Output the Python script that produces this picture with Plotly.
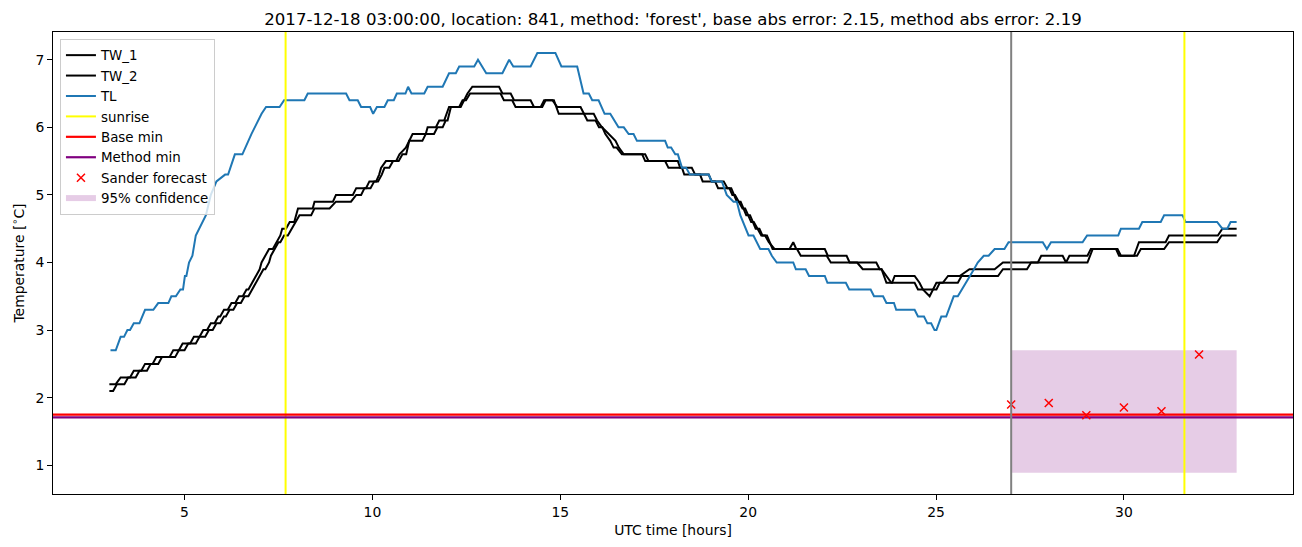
import plotly.graph_objects as go

# ---------------- data ----------------
TL_H = [3.03, 3.17, 3.30, 3.39, 3.48, 3.55, 3.65, 3.80, 3.95, 4.17, 4.30, 4.57, 4.65, 4.77,
        4.89, 4.96, 5.01, 5.05, 5.12, 5.21, 5.30, 5.49, 5.57, 5.70, 5.85, 6.08, 6.16, 6.34,
        6.54, 6.78, 7.05, 7.17, 7.53, 7.65, 8.19, 8.28, 9.30, 9.39, 9.61, 9.70, 9.94, 10.02,
        10.12, 10.32, 10.41, 10.57, 10.65, 10.88, 10.95, 11.04, 11.38, 11.47, 11.87, 12.04,
        12.22, 12.31, 12.71, 12.81, 13.03, 13.46, 13.64, 13.75, 14.21, 14.39, 14.87, 15.03,
        15.45, 15.62, 15.76, 15.85, 16.02, 16.18, 16.33, 16.55, 16.69, 16.82, 16.95, 17.04,
        17.79, 17.86, 17.95, 18.06, 18.13, 18.24, 18.35, 18.45, 18.95, 19.03, 19.30, 19.43,
        19.61, 19.70, 19.79, 20.01, 20.14, 20.32, 20.54, 20.63, 20.76, 21.20, 21.27, 21.53,
        21.62, 22.04, 22.11, 22.60, 22.69, 23.26, 23.35, 23.59, 23.68, 23.88, 23.94, 24.43,
        24.52, 24.68, 24.77, 24.87, 24.96, 25.01, 25.14, 25.27, 25.47, 25.58, 25.69, 25.80,
        25.92, 26.01, 26.11, 26.27, 26.40, 26.56, 26.82, 26.93, 27.84, 27.95, 28.06, 28.90,
        29.02, 29.85, 29.92, 30.40, 30.49, 30.98, 31.07, 31.56, 31.64, 32.48, 32.62, 32.75,
        32.84, 33.00]
TL_T = [2.7, 2.7, 2.9, 2.9, 3.0, 3.0, 3.1, 3.1, 3.3, 3.3, 3.4, 3.4, 3.5, 3.5,
        3.6, 3.6, 3.8, 3.8, 4.0, 4.1, 4.4, 4.6, 4.7, 5.0, 5.2, 5.3, 5.3, 5.6,
        5.6, 5.9, 6.2, 6.3, 6.3, 6.4, 6.4, 6.5, 6.5, 6.4, 6.4, 6.3, 6.3, 6.2,
        6.3, 6.3, 6.4, 6.4, 6.5, 6.5, 6.6, 6.5, 6.5, 6.6, 6.6, 6.8,
        6.8, 6.9, 6.9, 7.0, 6.8, 6.8, 7.0, 6.9, 6.9, 7.1, 7.1, 6.9,
        6.9, 6.5, 6.5, 6.4, 6.4, 6.2, 6.2, 6.0, 6.0, 5.9, 5.9, 5.8,
        5.8, 5.7, 5.7, 5.6, 5.6, 5.4, 5.4, 5.3, 5.3, 5.2, 5.2, 5.0,
        4.9, 4.9, 4.7, 4.4, 4.4, 4.2, 4.2, 4.1, 4.0, 4.0, 3.9, 3.9,
        3.8, 3.8, 3.7, 3.7, 3.6, 3.6, 3.5, 3.5, 3.4, 3.4, 3.3, 3.3,
        3.2, 3.2, 3.1, 3.1, 3.0, 3.0, 3.2, 3.2, 3.5, 3.5, 3.6, 3.7,
        3.8, 3.9, 4.0, 4.1, 4.1, 4.2, 4.2, 4.3, 4.3, 4.2, 4.3, 4.3,
        4.4, 4.4, 4.5, 4.5, 4.6, 4.6, 4.7, 4.7, 4.6, 4.6, 4.5, 4.5,
        4.6, 4.6]

TW1_H = [3.00, 3.17, 3.30, 3.55, 3.65, 3.85, 3.95, 4.15, 4.25, 4.60, 4.70, 4.85, 4.95, 5.15,
         5.25, 5.40, 5.50, 5.60, 5.70, 5.80, 5.90, 5.95, 6.05, 6.15, 6.25, 6.35, 6.45, 6.55,
         6.65, 6.70, 6.80, 6.90, 7.00, 7.05, 7.15, 7.25, 7.35, 7.45, 7.55, 7.60, 7.70, 7.80,
         7.92, 8.02, 8.41, 8.46, 8.95, 9.03, 9.48, 9.57, 9.83, 9.92, 10.10, 10.18, 10.23,
         10.36, 10.63, 10.72, 10.89, 11.07, 11.42, 11.47, 11.69, 11.78, 11.91, 12.04, 12.35,
         12.44, 12.53, 12.66, 13.37, 13.46, 13.68, 13.77, 14.21, 14.30, 14.48, 14.57, 14.79,
         14.92, 15.54, 15.63, 15.89, 15.98, 16.11, 16.29, 16.47, 16.56, 16.69, 17.18, 17.26,
         18.13, 18.19, 18.50, 18.59, 18.95, 19.03, 19.35, 19.45, 19.55, 19.62, 19.70, 19.80,
         19.88, 19.95, 20.05, 20.13, 20.20, 20.30, 20.38, 20.50, 20.58, 20.65, 21.10, 21.20,
         21.28, 22.04, 22.12, 22.62, 22.70, 23.41, 23.50, 23.55, 23.68, 23.83, 23.90, 24.43,
         24.56, 24.65, 24.83, 25.01, 25.18, 25.32, 25.63, 25.89, 26.56, 26.78, 27.71, 27.80,
         28.37, 28.46, 28.55, 29.03, 29.12, 29.83, 29.92, 30.27, 30.40, 31.11, 31.20, 32.50,
         32.62, 33.00]
TW1_T = [2.2, 2.2, 2.3, 2.3, 2.4, 2.4, 2.5, 2.5, 2.6, 2.6, 2.7, 2.7, 2.8, 2.8,
         2.9, 2.9, 3.0, 3.0, 3.1, 3.1, 3.2, 3.2, 3.3, 3.3, 3.4, 3.4, 3.5, 3.5,
         3.6, 3.6, 3.7, 3.8, 3.9, 4.0, 4.1, 4.2, 4.2, 4.3, 4.4, 4.5, 4.5, 4.6,
         4.6, 4.8, 4.8, 4.9, 4.9, 5.0, 5.0, 5.1, 5.1, 5.2, 5.2, 5.3, 5.4,
         5.5, 5.5, 5.6, 5.7, 5.9, 5.9, 6.0, 6.0, 6.1, 6.1, 6.3, 6.3,
         6.4, 6.5, 6.6, 6.6, 6.5, 6.5, 6.4, 6.4, 6.3, 6.3, 6.4, 6.4,
         6.3, 6.3, 6.2, 6.2, 6.1, 6.0, 5.9, 5.8, 5.7, 5.6, 5.6, 5.5,
         5.5, 5.4, 5.4, 5.3, 5.3, 5.2, 5.2, 5.1, 5.1, 5.0, 4.9, 4.9,
         4.8, 4.7, 4.7, 4.6, 4.5, 4.5, 4.4, 4.4, 4.3, 4.2, 4.2, 4.3,
         4.2, 4.2, 4.1, 4.1, 4.0, 4.0, 3.9, 3.9, 3.7, 3.7, 3.8, 3.8,
         3.7, 3.6, 3.5, 3.7, 3.7, 3.8, 3.8, 3.9, 3.9, 4.0, 4.0, 4.1,
         4.1, 4.0, 4.1, 4.1, 4.2, 4.2, 4.1, 4.1, 4.3, 4.3, 4.4, 4.4,
         4.5, 4.5]

TW2_H = [3.00, 3.10, 3.20, 3.40, 3.50, 3.70, 3.80, 4.00, 4.10, 4.30, 4.40, 4.75, 4.85, 5.00,
         5.10, 5.30, 5.40, 5.55, 5.65, 5.75, 5.85, 5.95, 6.05, 6.10, 6.20, 6.30, 6.40, 6.50,
         6.60, 6.70, 6.80, 6.90, 7.00, 7.10, 7.15, 7.25, 7.30, 7.40, 7.50, 7.55, 7.65, 7.75,
         7.85, 7.95, 8.06, 8.37, 8.46, 8.86, 9.03, 9.43, 9.57, 9.70, 9.79, 9.95, 10.05, 10.15,
         10.25, 10.32, 10.45, 10.55, 10.70, 10.80, 10.90, 10.98, 11.33, 11.42, 11.64, 11.73,
         11.87, 11.95, 12.00, 12.09, 12.31, 12.40, 12.49, 12.60, 13.41, 13.50, 13.72, 13.81,
         14.52, 14.61, 14.83, 14.96, 15.63, 15.72, 15.94, 16.03, 16.12, 16.20, 16.33, 16.42,
         16.50, 16.64, 17.26, 17.35, 17.79, 17.88, 18.24, 18.30, 18.72, 18.79, 19.12, 19.20,
         19.50, 19.58, 19.65, 19.75, 19.85, 19.92, 20.00, 20.08, 20.15, 20.25, 20.35, 20.45,
         20.55, 20.70, 21.30, 21.40, 22.09, 22.20, 22.90, 23.05, 23.55, 23.81, 24.43, 24.52,
         25.01, 25.10, 25.58, 25.68, 26.47, 26.65, 26.78, 27.42, 27.53, 29.03, 29.17, 29.79,
         29.87, 30.35, 30.45, 31.07, 31.20, 32.48, 32.60, 33.00]
TW2_T = [2.1, 2.1, 2.2, 2.2, 2.3, 2.3, 2.4, 2.4, 2.5, 2.5, 2.6, 2.6, 2.7, 2.7,
         2.8, 2.8, 2.9, 2.9, 3.0, 3.0, 3.1, 3.1, 3.2, 3.2, 3.3, 3.3, 3.4, 3.4,
         3.5, 3.5, 3.6, 3.7, 3.8, 3.9, 3.9, 4.0, 4.1, 4.2, 4.3, 4.3, 4.4, 4.4,
         4.5, 4.6, 4.7, 4.7, 4.8, 4.8, 4.9, 4.9, 5.0, 5.0, 5.1, 5.1, 5.2, 5.2,
         5.3, 5.4, 5.4, 5.5, 5.5, 5.6, 5.6, 5.8, 5.8, 5.9, 5.9, 6.0,
         6.0, 6.1, 6.1, 6.3, 6.3, 6.4, 6.4, 6.5, 6.5, 6.4, 6.4, 6.3,
         6.3, 6.4, 6.4, 6.2, 6.2, 6.1, 6.1, 6.0, 6.0, 5.9, 5.8, 5.7,
         5.7, 5.6, 5.6, 5.5, 5.5, 5.4, 5.4, 5.3, 5.3, 5.2, 5.2, 5.1,
         5.1, 5.0, 5.0, 4.9, 4.8, 4.8, 4.7, 4.6, 4.6, 4.5, 4.4, 4.4,
         4.3, 4.2, 4.2, 4.1, 4.1, 4.0, 4.0, 3.9, 3.9, 3.7, 3.7, 3.6,
         3.6, 3.7, 3.7, 3.8, 3.8, 3.8, 3.9, 3.9, 4.0, 4.0, 4.2, 4.2,
         4.1, 4.1, 4.2, 4.2, 4.3, 4.3, 4.4, 4.4]

SUNRISE = [7.69, 31.61]
FORECAST_TIME = 27.0
BASE_MIN = 1.75
METHOD_MIN = 1.71
SANDER_H = [27, 28, 29, 30, 31, 32]
SANDER_T = [1.90, 1.92, 1.74, 1.855, 1.80, 2.64]
CONF_H = [27.0, 33.0]
CONF_LO = 0.89
CONF_HI = 2.70

X_RANGE = [1.5, 34.5]
Y_RANGE = [0.575, 7.41]
X_TICKS = [5, 10, 15, 20, 25, 30]
Y_TICKS = [1, 2, 3, 4, 5, 6, 7]

TITLE = ("2017-12-18 03:00:00, location: 841, method: 'forest', "
         "base abs error: 2.15, method abs error: 2.19")

FONT = "DejaVu Sans"

fig = go.Figure()

# 95% confidence band (drawn first -> underneath)
fig.add_trace(go.Scatter(
    x=[CONF_H[0], CONF_H[1], CONF_H[1], CONF_H[0], CONF_H[0]],
    y=[CONF_LO, CONF_LO, CONF_HI, CONF_HI, CONF_LO],
    fill="toself", fillcolor="rgba(128,0,128,0.2)", mode="none",
    name="95% confidence", legendrank=8))

fig.add_trace(go.Scatter(x=TW1_H, y=TW1_T, mode="lines", name="TW_1",
                         line=dict(color="black", width=2), legendrank=1))
fig.add_trace(go.Scatter(x=TW2_H, y=TW2_T, mode="lines", name="TW_2",
                         line=dict(color="black", width=2), legendrank=2))
fig.add_trace(go.Scatter(x=TL_H, y=TL_T, mode="lines", name="TL",
                         line=dict(color="#1f77b4", width=2), legendrank=3))

for i, s in enumerate(SUNRISE):
    fig.add_trace(go.Scatter(x=[s, s], y=Y_RANGE, mode="lines", name="sunrise",
                             line=dict(color="yellow", width=2),
                             showlegend=(i == 0), legendrank=4))

fig.add_trace(go.Scatter(x=X_RANGE, y=[BASE_MIN, BASE_MIN], mode="lines",
                         name="Base min", line=dict(color="red", width=2.2),
                         legendrank=5))
fig.add_trace(go.Scatter(x=X_RANGE, y=[METHOD_MIN, METHOD_MIN], mode="lines",
                         name="Method min", line=dict(color="purple", width=2.2),
                         legendrank=6))
fig.add_trace(go.Scatter(x=SANDER_H, y=SANDER_T, mode="markers",
                         name="Sander forecast",
                         marker=dict(symbol="x-thin", size=8, color="red",
                                     line=dict(color="red", width=1.5)),
                         legendrank=7))
fig.add_trace(go.Scatter(x=[FORECAST_TIME, FORECAST_TIME], y=Y_RANGE, mode="lines",
                         line=dict(color="gray", width=2), showlegend=False))

axis_common = dict(
    showgrid=False, zeroline=False, showline=True, linecolor="black", linewidth=1,
    mirror=True, ticks="outside", ticklen=5, tickwidth=1, tickcolor="black",
    automargin=False,
    tickfont=dict(family=FONT, size=13.9, color="black"),
)

fig.update_layout(
    width=1302, height=547,
    margin=dict(l=45, r=17, t=24, b=61),
    paper_bgcolor="white", plot_bgcolor="white",
    font=dict(family=FONT, color="black"),
    title=dict(text=TITLE, x=0.5, xref="paper", xanchor="center",
               y=1, yref="paper", yanchor="bottom", pad=dict(b=7),
               font=dict(family=FONT, size=16.6, color="black")),
    xaxis=dict(range=X_RANGE, tickvals=X_TICKS,
               title=dict(text="UTC time [hours]", standoff=6,
                          font=dict(family=FONT, size=13.9, color="black")),
               **axis_common),
    yaxis=dict(range=Y_RANGE, tickvals=Y_TICKS,
               title=dict(text="Temperature [<sup>∘</sup>C]", standoff=7,
                          font=dict(family=FONT, size=13.9, color="black")),
               **axis_common),
    legend=dict(x=0.0056, y=0.985, xanchor="left", yanchor="top",
                bgcolor="rgba(255,255,255,0.8)", bordercolor="#cccccc", borderwidth=1,
                font=dict(family=FONT, size=13.4, color="black"),
                tracegroupgap=0, itemwidth=30),
    showlegend=True,
)

fig.write_html("out.html")
